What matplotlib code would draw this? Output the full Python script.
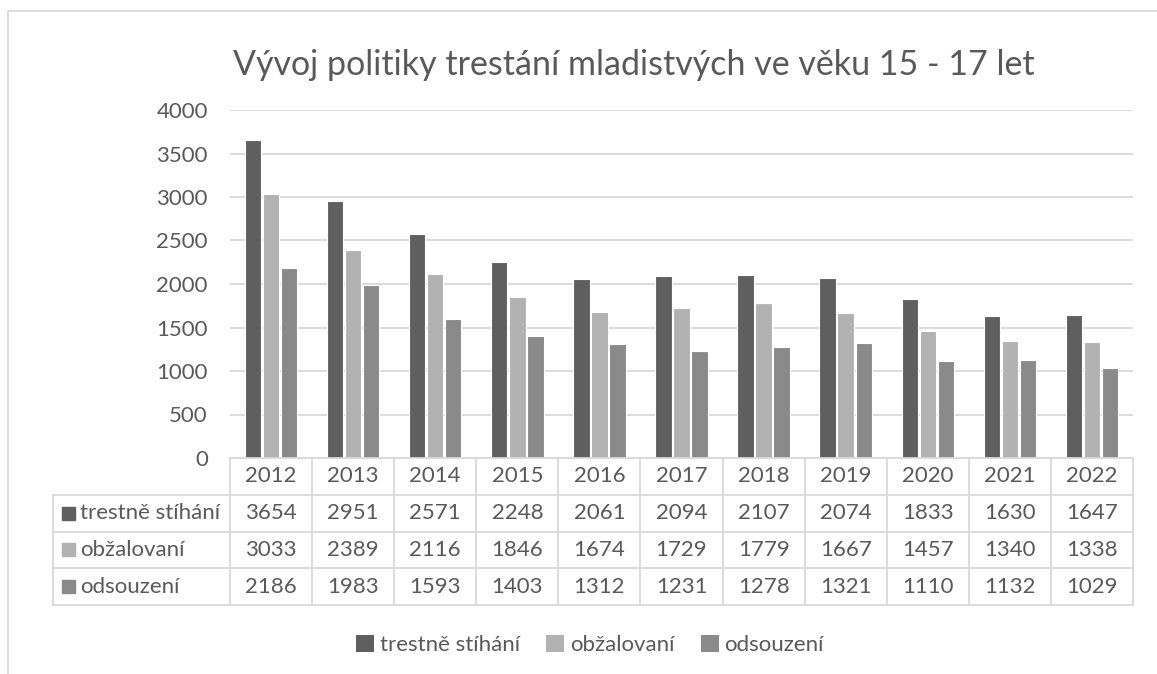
import numpy as np
import matplotlib.pyplot as plt
from matplotlib.patches import Patch
from matplotlib.lines import Line2D

plt.rcParams["font.family"] = ["Lato", "DejaVu Sans"]

years = ["2012", "2013", "2014", "2015", "2016", "2017", "2018", "2019", "2020", "2021", "2022"]
series_names = ["trestně stíhání", "obžalovaní", "odsouzení"]
trestne_stihani = [3654, 2951, 2571, 2248, 2061, 2094, 2107, 2074, 1833, 1630, 1647]
obzalovani = [3033, 2389, 2116, 1846, 1674, 1729, 1779, 1667, 1457, 1340, 1338]
odsouzeni = [2186, 1983, 1593, 1403, 1312, 1231, 1278, 1321, 1110, 1132, 1029]
series = [trestne_stihani, obzalovani, odsouzeni]
colors = ["#5f5f5f", "#b2b2b2", "#8a8a8a"]

W, H = 1157, 674
text_c = "#595959"
line_c = "#d9d9d9"
fs = 16

fig = plt.figure(figsize=(W / 100, H / 100), dpi=100)

# plot area in pixels: x 230..1133, y 110..458
ax = fig.add_axes([230 / W, 1 - 458 / H, 903 / W, 348 / H])
x = np.arange(len(years))
for i, (name, vals, c) in enumerate(zip(series_names, series, colors)):
    ax.bar(x + (i - 1) * 0.22, vals, width=0.2, color=c,
           edgecolor="white", linewidth=0.8, label=name, zorder=2)

ax.set_xlim(-0.5, len(years) - 0.5)
ax.set_ylim(0, 4000)
ax.set_yticks(range(0, 4001, 500))
ax.set_xticks([])
ax.yaxis.grid(True, color=line_c, linewidth=1.3)
ax.set_axisbelow(True)
for s in ax.spines.values():
    s.set_visible(False)
ax.tick_params(axis="y", length=0, labelsize=fs, labelcolor=text_c, pad=16)

# data table under the axis
tr = ax.get_xaxis_transform()
row_h = 36.75 / 348
label_left = (53 - 230) / 903
edges = np.arange(len(years) + 1) - 0.5
n_rows = len(series) + 1

kw = dict(color=line_c, linewidth=1.3, clip_on=False, zorder=3)
# horizontal lines
ax.plot([edges[0], edges[-1]], [0, 0], transform=tr, **kw)
for r in range(1, n_rows + 1):
    ax.plot([label_left, 1], [-r * row_h] * 2, transform=ax.transAxes, **kw)
# vertical lines
for e in edges:
    ax.plot([e, e], [0, -n_rows * row_h], transform=tr, **kw)
ax.plot([label_left, label_left], [-row_h, -n_rows * row_h], transform=ax.transAxes, **kw)

for j, yr in enumerate(years):
    ax.text(j, -0.5 * row_h, yr, transform=tr, ha="center", va="center",
            fontsize=fs, color=text_c)
for i, (name, vals, c) in enumerate(zip(series_names, series, colors)):
    yc = -(i + 1.5) * row_h
    for j, v in enumerate(vals):
        ax.text(j, yc, str(v), transform=tr, ha="center", va="center",
                fontsize=fs, color=text_c)
    ax.add_patch(plt.Rectangle((label_left + 9 / 903, yc - 6.5 / 348), 13 / 903, 13 / 348,
                               transform=ax.transAxes, color=c, clip_on=False))
    ax.text(label_left + 27 / 903, yc, name, transform=ax.transAxes, ha="left",
            va="center", fontsize=fs, color=text_c)

# title
fig.text(634 / W, 1 - 75 / H, "Vývoj politiky trestání mladistvých ve věku 15 - 17 let",
         ha="center", va="baseline", fontsize=24.5, color=text_c)

# legend
handles = [Patch(facecolor=c) for c in colors]
fig.legend(handles, series_names, loc="center", bbox_to_anchor=(590 / W, 1 - 645 / H),
           ncol=3, frameon=False, fontsize=fs, labelcolor=text_c,
           handlelength=0.8, handleheight=0.8, handletextpad=0.25, columnspacing=1.2)

# chart border
fig.add_artist(Line2D([8 / W, 8 / W, 1], [0, 1 - 11 / H, 1 - 11 / H],
                      transform=fig.transFigure, color=line_c, linewidth=1.3))

fig.savefig("out.png", dpi=100, facecolor="white")
